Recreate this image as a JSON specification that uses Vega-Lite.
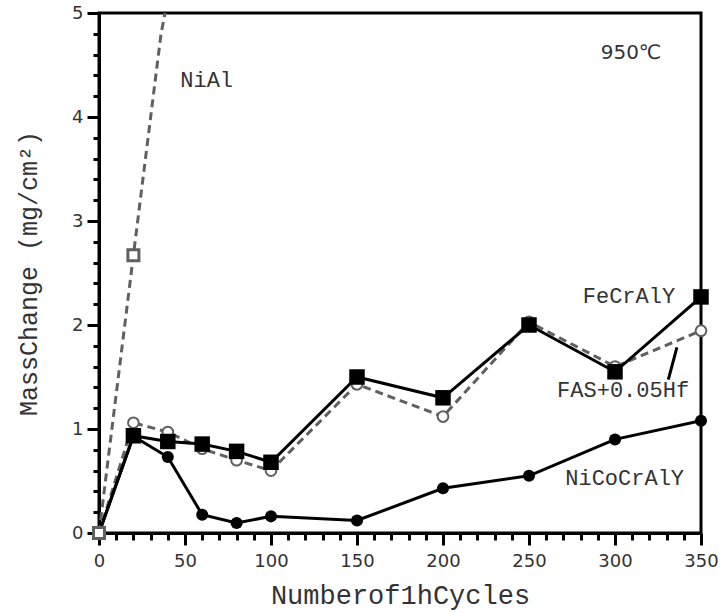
{
  "$schema": "https://vega.github.io/schema/vega-lite/v6.json",
  "width": 602,
  "height": 520,
  "autosize": {"type": "none"},
  "padding": {"left": 99, "top": 13, "right": 21, "bottom": 80},
  "background": "white",
  "config": {"view": {"stroke": "black", "strokeWidth": 3}, "axis": {"grid": false}},
  "datasets": {
    "series": [
      {"series": "NiAl", "cycles": 0, "mass": 0},
      {"series": "NiAl", "cycles": 20, "mass": 2.67},
      {"series": "NiAl", "cycles": 36, "mass": 4.79},
      {"series": "NiAl", "cycles": 40, "mass": 5.15},
      {"series": "FAS+0.05Hf", "cycles": 0, "mass": 0},
      {"series": "FAS+0.05Hf", "cycles": 20, "mass": 1.06},
      {"series": "FAS+0.05Hf", "cycles": 40, "mass": 0.97},
      {"series": "FAS+0.05Hf", "cycles": 60, "mass": 0.81},
      {"series": "FAS+0.05Hf", "cycles": 80, "mass": 0.7},
      {"series": "FAS+0.05Hf", "cycles": 100, "mass": 0.6},
      {"series": "FAS+0.05Hf", "cycles": 150, "mass": 1.43},
      {"series": "FAS+0.05Hf", "cycles": 200, "mass": 1.12},
      {"series": "FAS+0.05Hf", "cycles": 250, "mass": 2.03},
      {"series": "FAS+0.05Hf", "cycles": 300, "mass": 1.6},
      {"series": "FAS+0.05Hf", "cycles": 350, "mass": 1.945},
      {"series": "FeCrAlY", "cycles": 0, "mass": 0},
      {"series": "FeCrAlY", "cycles": 20, "mass": 0.935},
      {"series": "FeCrAlY", "cycles": 40, "mass": 0.88},
      {"series": "FeCrAlY", "cycles": 60, "mass": 0.855},
      {"series": "FeCrAlY", "cycles": 80, "mass": 0.785},
      {"series": "FeCrAlY", "cycles": 100, "mass": 0.68},
      {"series": "FeCrAlY", "cycles": 150, "mass": 1.5},
      {"series": "FeCrAlY", "cycles": 200, "mass": 1.3},
      {"series": "FeCrAlY", "cycles": 250, "mass": 2.0},
      {"series": "FeCrAlY", "cycles": 300, "mass": 1.55},
      {"series": "FeCrAlY", "cycles": 350, "mass": 2.27},
      {"series": "NiCoCrAlY", "cycles": 0, "mass": 0},
      {"series": "NiCoCrAlY", "cycles": 20, "mass": 0.93},
      {"series": "NiCoCrAlY", "cycles": 40, "mass": 0.73},
      {"series": "NiCoCrAlY", "cycles": 60, "mass": 0.176},
      {"series": "NiCoCrAlY", "cycles": 80, "mass": 0.096},
      {"series": "NiCoCrAlY", "cycles": 100, "mass": 0.16},
      {"series": "NiCoCrAlY", "cycles": 150, "mass": 0.12},
      {"series": "NiCoCrAlY", "cycles": 200, "mass": 0.43},
      {"series": "NiCoCrAlY", "cycles": 250, "mass": 0.55},
      {"series": "NiCoCrAlY", "cycles": 300, "mass": 0.9},
      {"series": "NiCoCrAlY", "cycles": 350, "mass": 1.08}
    ],
    "labels": [
      {"label": "NiAl", "cycles": 62.6, "mass": 4.36},
      {"label": "FeCrAlY", "cycles": 308.1, "mass": 2.28},
      {"label": "FAS+0.05Hf", "cycles": 304.7, "mass": 1.373},
      {"label": "NiCoCrAlY", "cycles": 305.6, "mass": 0.527}
    ],
    "temp": [
      {"label": "950℃", "cycles": 309.3, "mass": 4.62}
    ],
    "leader": [
      {"cycles": 336, "mass": 1.785, "cycles2": 331, "mass2": 1.474}
    ]
  },
  "data": {"name": "series"},
  "resolve": {"axis": {"x": "independent", "y": "independent"}},
  "layer": [
    {
      "transform": [{"filter": "datum.series === 'NiAl' || datum.series === 'FAS+0.05Hf'"}],
      "mark": {"type": "line", "clip": true, "color": "#606060", "strokeWidth": 3, "strokeDash": [8, 5]},
      "encoding": {
        "x": {"field": "cycles", "type": "quantitative", "scale": {"domain": [0, 350], "nice": false, "zero": false},
          "axis": {"orient": "bottom", "values": [0, 50, 100, 150, 200, 250, 300, 350], "tickSize": 12, "tickWidth": 3, "tickColor": "black",
            "domain": true, "domainColor": "black", "domainWidth": 3, "labelFont": "DejaVu Sans", "labelFontSize": 18, "labelColor": "#333",
            "labelPadding": 7, "labelFlush": false, "labelOverlap": false, "title": "Numberof1hCycles", "titleFont": "Liberation Mono",
            "titleFontSize": 27, "titleFontWeight": "normal", "titleColor": "#333", "titlePadding": 12, "grid": false}},
        "y": {"field": "mass", "type": "quantitative", "scale": {"domain": [0, 5], "nice": false, "zero": false},
          "axis": {"orient": "left", "values": [0, 1, 2, 3, 4, 5], "tickSize": 12, "tickWidth": 3, "tickColor": "black",
            "domain": true, "domainColor": "black", "domainWidth": 3, "labelFont": "DejaVu Sans", "labelFontSize": 18, "labelColor": "#333",
            "labelPadding": 4, "labelFlush": false, "labelOverlap": false, "title": "MassChange (mg/cm²)", "titleFont": "Liberation Mono",
            "titleFontSize": 25, "titleFontWeight": "normal", "titleColor": "#333", "titlePadding": 30, "grid": false}},
        "detail": {"field": "series"},
        "order": {"field": "cycles"}
      }
    },
    {
      "transform": [{"filter": "datum.series === 'FeCrAlY' || datum.series === 'NiCoCrAlY'"}],
      "mark": {"type": "line", "clip": true, "color": "black", "strokeWidth": 3},
      "encoding": {
        "x": {"field": "cycles", "type": "quantitative", "scale": {"domain": [0, 350], "nice": false, "zero": false},
          "axis": {"orient": "bottom", "values": [10, 20, 30, 40, 60, 70, 80, 90, 110, 120, 130, 140, 160, 170, 180, 190, 210, 220, 230, 240, 260, 270, 280, 290, 310, 320, 330, 340],
            "tickSize": 7, "tickWidth": 3, "tickColor": "black", "labels": false, "domain": false, "title": null, "grid": false}},
        "y": {"field": "mass", "type": "quantitative", "scale": {"domain": [0, 5], "nice": false, "zero": false},
          "axis": {"orient": "left", "values": [0.2, 0.4, 0.6, 0.8, 1.2, 1.4, 1.6, 1.8, 2.2, 2.4, 2.6, 2.8, 3.2, 3.4, 3.6, 3.8, 4.2, 4.4, 4.6, 4.8],
            "tickSize": 6, "tickWidth": 3, "tickColor": "black", "labels": false, "domain": false, "title": null, "grid": false}},
        "detail": {"field": "series"},
        "order": {"field": "cycles"}
      }
    },
    {
      "transform": [{"filter": "datum.series === 'FAS+0.05Hf' && datum.cycles > 0"}],
      "mark": {"type": "point", "shape": "circle", "filled": false, "fill": "white", "fillOpacity": 1, "stroke": "#606060", "strokeWidth": 2, "size": 115, "opacity": 1},
      "encoding": {
        "x": {"field": "cycles", "type": "quantitative", "axis": null},
        "y": {"field": "mass", "type": "quantitative", "axis": null}
      }
    },
    {
      "transform": [{"filter": "(datum.series === 'FeCrAlY' || datum.series === 'NiCoCrAlY') && datum.cycles > 0"}],
      "mark": {"type": "point", "filled": true, "color": "black", "opacity": 1},
      "encoding": {
        "x": {"field": "cycles", "type": "quantitative", "axis": null},
        "y": {"field": "mass", "type": "quantitative", "axis": null},
        "shape": {"field": "series", "type": "nominal", "scale": {"domain": ["FeCrAlY", "NiCoCrAlY"], "range": ["square", "circle"]}, "legend": null},
        "size": {"field": "series", "type": "nominal", "scale": {"domain": ["FeCrAlY", "NiCoCrAlY"], "range": [240, 145]}, "legend": null}
      }
    },
    {
      "transform": [{"filter": "datum.series === 'NiAl' && datum.cycles <= 20"}],
      "mark": {"type": "point", "shape": "square", "filled": false, "fill": "white", "fillOpacity": 1, "stroke": "#606060", "strokeWidth": 3, "size": 121, "opacity": 1},
      "encoding": {
        "x": {"field": "cycles", "type": "quantitative", "axis": null},
        "y": {"field": "mass", "type": "quantitative", "axis": null}
      }
    },
    {
      "data": {"name": "labels"},
      "mark": {"type": "text", "font": "Liberation Mono", "fontSize": 22, "color": "#333", "align": "center", "baseline": "middle"},
      "encoding": {
        "x": {"field": "cycles", "type": "quantitative", "axis": null},
        "y": {"field": "mass", "type": "quantitative", "axis": null},
        "text": {"field": "label"}
      }
    },
    {
      "data": {"name": "temp"},
      "mark": {"type": "text", "font": "DejaVu Sans", "fontSize": 20, "color": "#333", "align": "center", "baseline": "middle"},
      "encoding": {
        "x": {"field": "cycles", "type": "quantitative", "axis": null},
        "y": {"field": "mass", "type": "quantitative", "axis": null},
        "text": {"field": "label"}
      }
    },
    {
      "data": {"name": "leader"},
      "mark": {"type": "rule", "color": "black", "strokeWidth": 3},
      "encoding": {
        "x": {"field": "cycles", "type": "quantitative", "axis": null},
        "y": {"field": "mass", "type": "quantitative", "axis": null},
        "x2": {"field": "cycles2"},
        "y2": {"field": "mass2"}
      }
    }
  ]
}
